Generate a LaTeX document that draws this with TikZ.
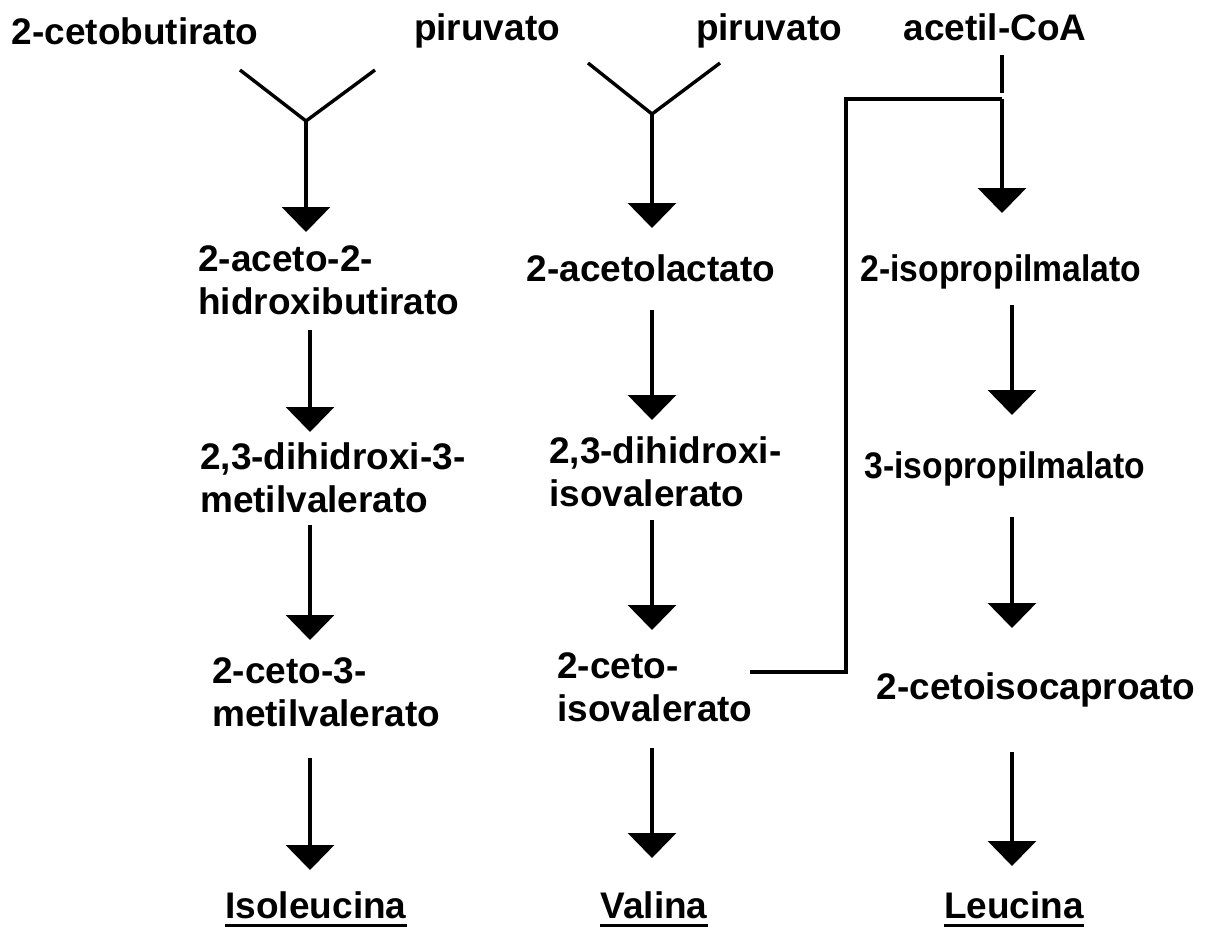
\documentclass[tikz,border=0pt]{standalone}
\usepackage{fontspec}
\usepackage{graphicx}
\setmainfont{Liberation Sans}
\usetikzlibrary{arrows.meta}
\begin{document}
\begin{tikzpicture}[x=1pt,y=-1pt,
  lbl/.style={inner sep=0pt, font=\fontsize{37}{43}\selectfont\bfseries},
  ln/.style={line width=3.4pt},
  ul/.style={line width=3pt},
  arr/.style={line width=3.4pt, -{Triangle[width=48pt,length=25pt]}}]
\useasboundingbox (0,0) rectangle (1211,929);
\renewcommand{\arraystretch}{1}
% top labels
\node[lbl,anchor=base] (cb) at (135,44) {2-cetobutirato};
\node[lbl,anchor=base] (pa) at (487,40) {piruvato};
\node[lbl,anchor=base] (pb) at (769,40) {piruvato};
\node[lbl,anchor=base] (ac) at (995,40) {acetil-CoA};
% column 1
\node[lbl,anchor=base west] (ahb) at (198,271) {\begin{tabular}[t]{@{}l@{}}2-aceto-2-\\hidroxibutirato\end{tabular}};
\node[lbl,anchor=base west] (dmv) at (200,469) {\begin{tabular}[t]{@{}l@{}}2,3-dihidroxi-3-\\metilvalerato\end{tabular}};
\node[lbl,anchor=base west] (cmv) at (212,683) {\begin{tabular}[t]{@{}l@{}}2-ceto-3-\\metilvalerato\end{tabular}};
\node[lbl,anchor=base] (ile) at (316,918) {Isoleucina};
% column 2
\node[lbl,anchor=base] (al) at (651,281) {2-acetolactato};
\node[lbl,anchor=base west] (div) at (549,463) {\begin{tabular}[t]{@{}l@{}}2,3-dihidroxi-\\isovalerato\end{tabular}};
\node[lbl,anchor=base west] (civ) at (557,678) {\begin{tabular}[t]{@{}l@{}}2-ceto-\\isovalerato\end{tabular}};
\node[lbl,anchor=base] (val) at (654,918) {Valina};
% column 3
\node[lbl,anchor=base] (ipm2) at (1001,281) {\scalebox{0.91}[1]{2-isopropilmalato}};
\node[lbl,anchor=base] (ipm3) at (1005,478) {\scalebox{0.91}[1]{3-isopropilmalato}};
\node[lbl,anchor=base] (kic) at (1036,699) {2-cetoisocaproato};
\node[lbl,anchor=base] (leu) at (1014,918) {Leucina};
% underlines of the amino acids
\draw[ul] ([yshift=-7pt]ile.base west) -- ([yshift=-7pt]ile.base east);
\draw[ul] ([yshift=-7pt]val.base west) -- ([yshift=-7pt]val.base east);
\draw[ul] ([yshift=-7pt]leu.base west) -- ([yshift=-7pt]leu.base east);
% junction points
\coordinate (y1l) at (240,70);
\coordinate (y1r) at (375,70);
\coordinate (y1) at (306,121);
\coordinate (y2l) at (588,63);
\coordinate (y2r) at (720,63);
\coordinate (y2) at (652,114);
\coordinate (acs) at (1002,55);
\coordinate (ace) at (1002,93);
\coordinate (jn) at (1002,99);
\coordinate (cn) at (846,99);
\coordinate (cb2) at (846,672);
\coordinate (cive) at (750,672);
% Y junctions
\draw[ln] (y1l) -- (y1) -- (y1r);
\draw[ln] (y2l) -- (y2) -- (y2r);
\draw[arr] (y1) -- (306,232);
\draw[arr] (y2) -- (652,228);
% column 1 arrows
\draw[arr] (310,330) -- (310,432);
\draw[arr] (310,525) -- (310,640);
\draw[arr] (310,758) -- (310,870);
% column 2 arrows
\draw[arr] (652,310) -- (652,420);
\draw[arr] (652,520) -- (652,630);
\draw[arr] (652,748) -- (652,858);
% leucine branch
\draw[ln] (acs) -- (ace);
\draw[ln, line join=miter] (cive) -- (cb2) -- (cn) -- (jn);
\draw[arr] (jn) -- (1002,213);
\draw[arr] (1012,305) -- (1012,415);
\draw[arr] (1012,517) -- (1012,628);
\draw[arr] (1012,752) -- (1012,866);
\end{tikzpicture}
\end{document}
